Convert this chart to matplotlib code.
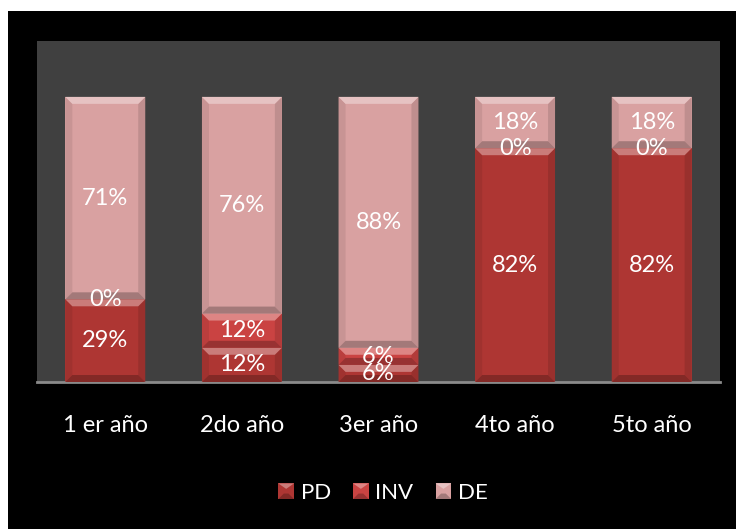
import matplotlib.pyplot as plt
from matplotlib.patches import Polygon, Rectangle
from matplotlib.legend_handler import HandlerBase
import numpy as np

plt.rcParams['font.family'] = ['Lato', 'DejaVu Sans']

categories = ["1 er año", "2do año", "3er año", "4to año", "5to año"]
series = ["PD", "INV", "DE"]
pd_vals = [29, 12, 6, 82, 82]
inv_vals = [0, 12, 6, 0, 0]
de_vals = [71, 76, 88, 18, 18]
colors = {"PD": "#ae3633", "INV": "#ca4342", "DE": "#d9a1a1"}


def shade(c, f):
    rgb = np.array(plt.matplotlib.colors.to_rgb(c))
    if f > 0:
        rgb = rgb + (1 - rgb) * f
    else:
        rgb = rgb * (1 + f)
    return tuple(rgb)


def bevel_bar(ax, x, y0, h, w, color, bx, by):
    x0, x1 = x - w / 2, x + w / 2
    y1 = y0 + h
    ax.add_patch(Rectangle((x0, y0), w, h, facecolor=color, edgecolor="none", zorder=2))
    dy = min(by, h / 2)
    dx = bx * dy / by
    top = [(x0, y1), (x1, y1), (x1 - dx, y1 - dy), (x0 + dx, y1 - dy)]
    bot = [(x0, y0), (x1, y0), (x1 - dx, y0 + dy), (x0 + dx, y0 + dy)]
    left = [(x0, y0), (x0, y1), (x0 + dx, y1 - dy), (x0 + dx, y0 + dy)]
    right = [(x1, y0), (x1, y1), (x1 - dx, y1 - dy), (x1 - dx, y0 + dy)]
    ax.add_patch(Polygon(left, facecolor=shade(color, -0.08), edgecolor="none", zorder=3))
    ax.add_patch(Polygon(right, facecolor=shade(color, -0.12), edgecolor="none", zorder=3))
    ax.add_patch(Polygon(bot, facecolor=shade(color, -0.25), edgecolor="none", zorder=3))
    ax.add_patch(Polygon(top, facecolor=shade(color, 0.35), edgecolor="none", zorder=3))


fig = plt.figure(figsize=(7.36, 5.29), dpi=100, facecolor="white")
fig.patches.append(Rectangle((8 / 736, 0), 1, 1 - 11 / 529, transform=fig.transFigure,
                             facecolor="black", edgecolor="none", zorder=-1))
ax = fig.add_axes([37 / 736, (529 - 382) / 529, (720 - 37) / 736, (382 - 41) / 529])
ax.set_zorder(1)
ax.set_facecolor("#404040")

width = 0.585
xs = np.arange(len(categories))
bx = 7 / 136.6   # bevel size in x units
by = 2.45        # bevel size in percent units

for i, x in enumerate(xs):
    base = 0
    for name, vals in zip(series, [pd_vals, inv_vals, de_vals]):
        v = vals[i]
        if v > 0:
            bevel_bar(ax, x, base, v, width, colors[name], bx, by)
        ax.text(x, base + v / 2, f"{v}%", ha="center", va="center",
                color="white", fontsize=17, zorder=5)
        base += v

ax.set_xlim(-0.5, len(categories) - 0.5)
ax.set_ylim(0, 119.6)
ax.set_xticks(xs)
ax.set_xticklabels(categories, color="white", fontsize=17)
ax.set_yticks([])
ax.tick_params(axis="x", length=0, pad=24)
for s in ["top", "left", "right"]:
    ax.spines[s].set_visible(False)
ax.spines["bottom"].set_color("#8a8a8a")
ax.spines["bottom"].set_linewidth(2)


class BevelHandler(HandlerBase):
    def create_artists(self, legend, orig_handle, xdescent, ydescent, width, height, fontsize, trans):
        c = orig_handle.get_facecolor()
        s = height * 1.0
        x0 = width - s
        y0 = (height - s) / 2
        d = s * 0.35
        arts = [Rectangle((x0, y0), s, s, facecolor=c, edgecolor="none", transform=trans)]
        arts.append(Polygon([(x0, y0 + s), (x0 + s, y0 + s), (x0 + s / 2, y0 + s - d)],
                            facecolor=shade(c, 0.35), edgecolor="none", transform=trans))
        arts.append(Polygon([(x0, y0), (x0 + s, y0), (x0 + s - d, y0 + d), (x0 + d, y0 + d)],
                            facecolor=shade(c, -0.25), edgecolor="none", transform=trans))
        return arts


handles = [Rectangle((0, 0), 1, 1, facecolor=colors[n]) for n in series]
fig.legend(handles, series, loc="center", bbox_to_anchor=(383 / 736, 1 - 493 / 529),
           ncol=3, frameon=False, labelcolor="white", fontsize=16,
           handler_map={Rectangle: BevelHandler()}, handlelength=0.7,
           handletextpad=0.3, columnspacing=1.0)

fig.savefig("out.png", dpi=100, facecolor=fig.get_facecolor())
